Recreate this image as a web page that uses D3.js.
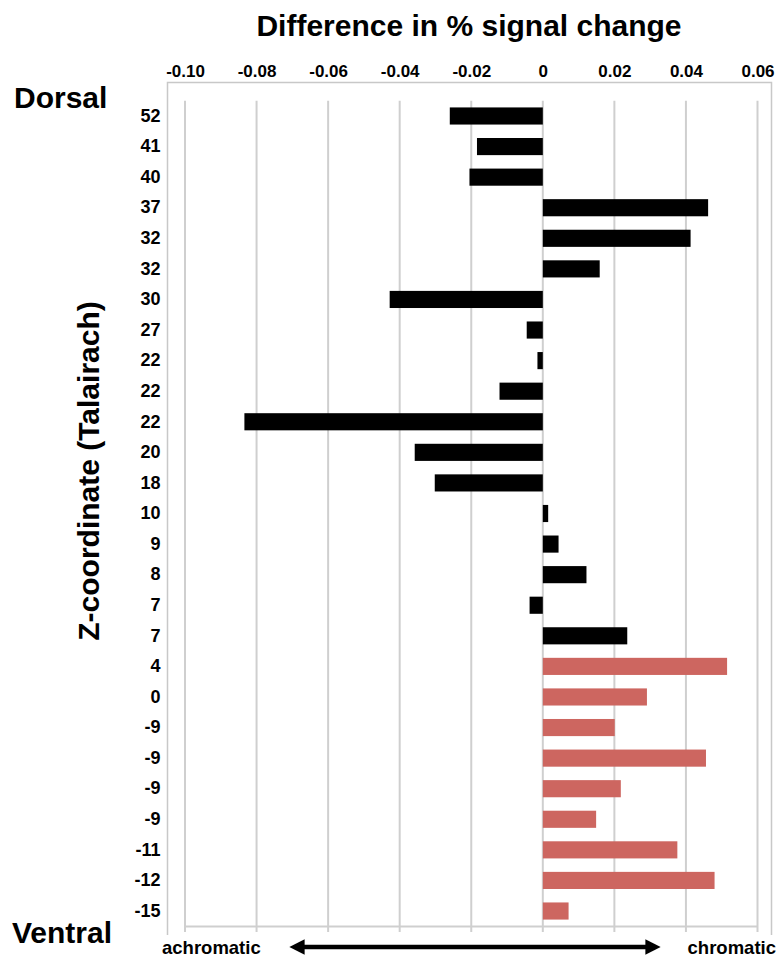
<!DOCTYPE html>
<html><head><meta charset="utf-8">
<script src="https://cdn.jsdelivr.net/npm/d3@7"></script>
<style>body{margin:0;background:#fff;} svg{display:block;font-family:"Liberation Sans",Arial,sans-serif;}</style>
</head><body>
<script>
const zLabels = ["52","41","40","37","32","32","30","27","22","22","22","20","18","10","9","8","7","7","4","0","-9","-9","-9","-9","-11","-12","-15"];
const diffValues = [-0.026,-0.0184,-0.0205,0.0462,0.0413,0.0159,-0.0428,-0.0045,-0.0015,-0.0121,-0.0834,-0.0358,-0.0302,0.0015,0.0044,0.0122,-0.0037,0.0236,0.0515,0.0291,0.0201,0.0456,0.0218,0.0149,0.0376,0.048,0.0072];
const groups = ["dorsal","dorsal","dorsal","dorsal","dorsal","dorsal","dorsal","dorsal","dorsal","dorsal","dorsal","dorsal","dorsal","dorsal","dorsal","dorsal","dorsal","dorsal","ventral","ventral","ventral","ventral","ventral","ventral","ventral","ventral","ventral"];
const xTicks = [-0.10,-0.08,-0.06,-0.04,-0.02,0,0.02,0.04,0.06];
const xTickLabels = ["-0.10","-0.08","-0.06","-0.04","-0.02","0","0.02","0.04","0.06"];

const W = 782, H = 961;
const svg = d3.select("body").append("svg").attr("width", W).attr("height", H);

const x = d3.scaleLinear().domain([-0.10, 0.06]).range([185, 757.5]);
const rows = zLabels.map((z, i) => i);
const y = d3.scaleBand().domain(rows).range([100.7, 926.3]).paddingInner(0.44).paddingOuter(0.22);

const color = {dorsal: "#000000", ventral: "#CD6660"};

// outer frame (left, top, right)
svg.append("path")
  .attr("d", `M167.5,935 V82.5 H771.5 V935`)
  .attr("fill", "none").attr("stroke", "#c8c8c8").attr("stroke-width", 1.5);

// gridlines
svg.append("g").selectAll("line").data(xTicks).join("line")
  .attr("x1", d => x(d)).attr("x2", d => x(d))
  .attr("y1", 100.7).attr("y2", 932)
  .attr("stroke", "#cfcfcf").attr("stroke-width", 2);

// bottom axis line
svg.append("line").attr("x1", x(-0.10)).attr("x2", x(0.06)).attr("y1", 926.5).attr("y2", 926.5)
  .attr("stroke", "#cfcfcf").attr("stroke-width", 2);

// top tick labels via axis
const xAxis = d3.axisTop(x).tickValues(xTicks).tickFormat((d, i) => xTickLabels[i]).tickSize(0).tickPadding(0);
const gx = svg.append("g").attr("transform", "translate(0,77)").call(xAxis);
gx.select(".domain").remove();
gx.selectAll("text").attr("font-size", 17).attr("font-weight", "bold").attr("fill", "#000")
  .attr("font-family", "'Liberation Sans', Arial, sans-serif");

// bars
svg.append("g").selectAll("rect").data(rows).join("rect")
  .attr("x", i => x(Math.min(0, diffValues[i])))
  .attr("width", i => Math.abs(x(diffValues[i]) - x(0)))
  .attr("y", i => y(i))
  .attr("height", y.bandwidth())
  .attr("fill", i => color[groups[i]]);

// row labels via axis
const yAxis = d3.axisLeft(y).tickFormat(i => zLabels[i]).tickSize(0).tickPadding(0);
const gy = svg.append("g").attr("transform", "translate(160.5,0)").call(yAxis);
gy.select(".domain").remove();
gy.selectAll("text").attr("font-size", 18).attr("font-weight", "bold").attr("fill", "#000")
  .attr("font-family", "'Liberation Sans', Arial, sans-serif");

// title
svg.append("text").attr("x", 469).attr("y", 36).attr("text-anchor", "middle")
  .attr("font-size", 30).attr("font-weight", "bold").text("Difference in % signal change");

// Dorsal / Ventral
svg.append("text").attr("x", 14).attr("y", 108).attr("font-size", 30).attr("font-weight", "bold").text("Dorsal");
svg.append("text").attr("x", 12).attr("y", 943).attr("font-size", 30).attr("font-weight", "bold").text("Ventral");

// y-axis title
svg.append("text").attr("transform", "translate(99,471) rotate(-90)").attr("text-anchor", "middle")
  .attr("font-size", 30).attr("font-weight", "bold").text("Z-coordinate (Talairach)");

// bottom labels and arrow
svg.append("text").attr("x", 162).attr("y", 954).attr("font-size", 18.5).attr("font-weight", "bold").text("achromatic");
svg.append("text").attr("x", 776).attr("y", 954).attr("text-anchor", "end").attr("font-size", 18.5).attr("font-weight", "bold").text("chromatic");

const defs = svg.append("defs");
["start","end"].forEach(k => {
  defs.append("marker").attr("id", "ah-" + k).attr("viewBox", "0 0 10 10")
    .attr("refX", 5).attr("refY", 5).attr("markerWidth", 3.4).attr("markerHeight", 3.4)
    .attr("orient", "auto-start-reverse")
    .append("path").attr("d", "M0,0 L10,5 L0,10 z").attr("fill", "#000");
});
svg.append("line").attr("x1", 297).attr("x2", 653).attr("y1", 947).attr("y2", 947)
  .attr("stroke", "#000").attr("stroke-width", 4.5)
  .attr("marker-start", "url(#ah-start)").attr("marker-end", "url(#ah-end)");
</script>
</body></html>
